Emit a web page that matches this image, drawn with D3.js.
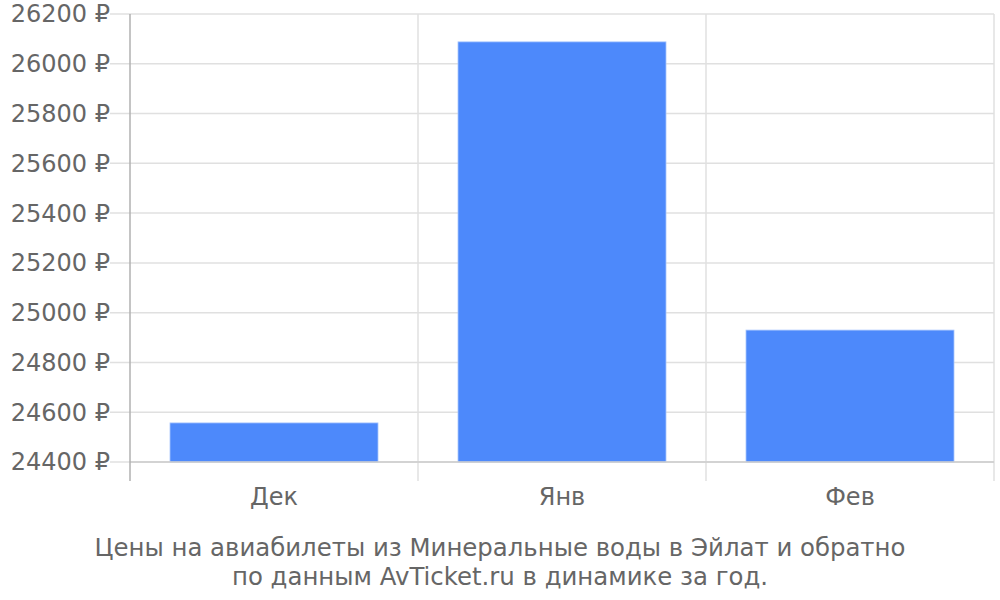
<!DOCTYPE html>
<html>
<head>
<meta charset="utf-8">
<script src="https://cdn.jsdelivr.net/npm/d3@7"></script>
<style>
  body { margin: 0; background: #fff; }
  text { font-family: "DejaVu Sans", sans-serif; }
</style>
</head>
<body>
<div id="plot"></div>
<script>
// data
var months = ["Дек", "Янв", "Фев"];
var prices = [24557, 26088, 24930];
var yTicks = [24400, 24600, 24800, 25000, 25200, 25400, 25600, 25800, 26000, 26200];
var titleLines = ["Цены на авиабилеты из Минеральные воды в Эйлат и обратно",
                  "по данным AvTicket.ru в динамике за год."];

var margin = {t:14, r:6, b:138, l:130};
var W = 1000, H = 600;
var width = W - margin.l - margin.r,
    height = H - margin.t - margin.b;

var svg = d3.select('#plot')
    .append('svg')
    .attr('width', W)
    .attr('height', H);

var plot = svg.append('g')
    .attr('transform', 'translate(' + margin.l + ',' + margin.t + ')');

var x = d3.scaleBand().domain(months).range([0, width]).paddingInner(0).paddingOuter(0);
var y = d3.scaleLinear().domain([24400, 26200]).range([height, 0]);

// horizontal gridlines (extend left as ticks)
plot.selectAll('.hgrid')
    .data(yTicks)
    .enter()
    .append('line')
    .attr('class', 'hgrid')
    .attr('x1', -20).attr('x2', width)
    .attr('y1', function(d){ return y(d); })
    .attr('y2', function(d){ return y(d); })
    .style('stroke', '#e0e0e0')
    .style('stroke-width', 1.5);

// vertical gridlines at band edges
var edges = months.map(function(m){ return x(m) + x.bandwidth(); });
plot.selectAll('.vgrid')
    .data(edges)
    .enter()
    .append('line')
    .attr('class', 'vgrid')
    .attr('x1', function(d){ return d; })
    .attr('x2', function(d){ return d; })
    .attr('y1', 0).attr('y2', height + 19)
    .style('stroke', '#e0e0e0')
    .style('stroke-width', 1.5);

// bars
var pad = 40;
plot.selectAll('.bar')
    .data(prices)
    .enter()
    .append('rect')
    .attr('class', 'bar')
    .attr('x', function(d, i){ return x(months[i]) + pad; })
    .attr('width', x.bandwidth() - 2 * pad)
    .attr('y', function(d){ return y(d); })
    .attr('height', function(d){ return height - y(d); })
    .style('fill', '#4d89fb')
    .style('stroke', '#a8c6fd')
    .style('stroke-width', 0.8);

// baseline
plot.append('line')
    .attr('x1', 0).attr('x2', width)
    .attr('y1', height).attr('y2', height)
    .style('stroke', '#cccccc')
    .style('stroke-width', 1.5);

// left axis line
plot.append('line')
    .attr('x1', 0).attr('x2', 0)
    .attr('y1', 0).attr('y2', height + 19)
    .style('stroke', '#b0b0b0')
    .style('stroke-width', 1.5);

// y labels
plot.selectAll('.ylab')
    .data(yTicks)
    .enter()
    .append('text')
    .attr('class', 'ylab')
    .attr('x', -20)
    .attr('y', function(d){ return y(d); })
    .attr('dy', '0.35em')
    .attr('text-anchor', 'end')
    .style('font-size', '24px')
    .style('fill', '#666')
    .text(function(d){ return d + ' ₽'; });

// x labels
plot.selectAll('.xlab')
    .data(months)
    .enter()
    .append('text')
    .attr('class', 'xlab')
    .attr('x', function(d){ return x(d) + x.bandwidth() / 2; })
    .attr('y', height + 43)
    .attr('text-anchor', 'middle')
    .style('font-size', '24px')
    .style('fill', '#666')
    .text(function(d){ return d; });

// title under chart
svg.selectAll('.title')
    .data(titleLines)
    .enter()
    .append('text')
    .attr('class', 'title')
    .attr('x', 500)
    .attr('y', function(d, i){ return 556 + i * 29; })
    .attr('text-anchor', 'middle')
    .style('font-size', '24.4px')
    .style('fill', '#666')
    .text(function(d){ return d; });
</script>
</body>
</html>
